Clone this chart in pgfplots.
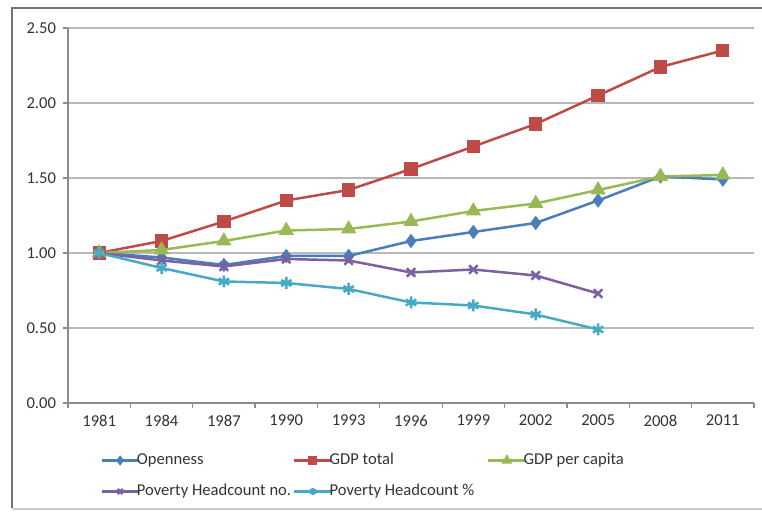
\documentclass[border=0pt]{standalone}
\usepackage{pgfplots}
\pgfplotsset{compat=1.18}
\usepackage{fontspec}
\setmainfont{Carlito}

\definecolor{cOpen}{HTML}{4A7EBB}
\definecolor{cGdp}{HTML}{BE4B48}
\definecolor{cCap}{HTML}{98B954}
\definecolor{cPovN}{HTML}{7D60A0}
\definecolor{cPovP}{HTML}{46AAC5}

\begin{document}
\begin{tikzpicture}
\useasboundingbox (0,0) rectangle (381pt,256pt);
\draw[black!55, line width=0.8pt] (390pt,252pt) -- (6pt,252pt) -- (6pt,2pt);
\draw[black!20, line width=0.6pt] (6pt,1.5pt) -- (390pt,1.5pt);
\begin{axis}[
  at={(34pt,54.5pt)}, anchor=south west,
  scale only axis, width=343pt, height=187.5pt,
  xmin=-0.5, xmax=10.5, ymin=0, ymax=2.5,
  xtick={0,...,10},
  xticklabels={1981,1984,1987,1990,1993,1996,1999,2002,2005,2008,2011},
  minor xtick={-0.5,0.5,...,10.5},
  ytick={0,0.5,...,2.5},
  yticklabel style={/pgf/number format/.cd, fixed, fixed zerofill, precision=2},
  /pgf/number format/assume math mode=true,
  axis x line*=bottom, axis y line*=left,
  axis line style={black!45, line width=0.6pt, -},
  tick align=outside, major tick length=2.5pt, minor tick length=2.5pt,
  major x tick style={draw=none},
  minor x tick style={black!45, line width=0.6pt},
  ytick style={black!45, line width=0.6pt},
  ymajorgrids, grid style={black!28, line width=0.6pt},
  tick label style={font=\fontsize{8.3}{10}\selectfont, text=black!80},
  legend columns=3,
  legend style={at={(axis description cs:0.0466,-0.111)}, anchor=north west,
    draw=none, fill=none, inner sep=0pt, font=\fontsize{8.3}{10}\selectfont,
    text=black!80,
    cells={anchor=west, minimum height=15.5pt, inner sep=0.5pt},
    /tikz/column 1/.style={column sep=-3.5pt},
    /tikz/column 2/.style={column sep=-1pt},
    /tikz/column 3/.style={column sep=-3.5pt},
    /tikz/column 4/.style={column sep=4.5pt},
    /tikz/column 5/.style={column sep=-3.5pt}},
  legend image code/.code={\draw[mark repeat=2, mark phase=2, mark options={scale=0.6}]
    plot coordinates {(0pt,0pt) (9.25pt,0pt) (18.5pt,0pt)};},
  every axis plot/.append style={line width=1.25pt},
]
\addplot[cOpen, mark=diamond*, mark size=2.6pt, mark options={solid}] coordinates {
  (0,1.00) (1,0.97) (2,0.92) (3,0.98) (4,0.98) (5,1.08) (6,1.14) (7,1.20) (8,1.35) (9,1.51) (10,1.49)};
\addlegendentry{Openness}
\addplot[cGdp, mark=square*, mark size=2.7pt] coordinates {
  (0,1.00) (1,1.08) (2,1.21) (3,1.35) (4,1.42) (5,1.56) (6,1.71) (7,1.86) (8,2.05) (9,2.24) (10,2.35)};
\addlegendentry{GDP total}
\addplot[cCap, mark=triangle*, mark size=3.2pt] coordinates {
  (0,1.00) (1,1.02) (2,1.08) (3,1.15) (4,1.16) (5,1.21) (6,1.28) (7,1.33) (8,1.42) (9,1.51) (10,1.52)};
\addlegendentry{GDP per capita}
\addplot[cPovN, mark=x, mark size=3pt] coordinates {
  (0,1.00) (1,0.95) (2,0.91) (3,0.96) (4,0.95) (5,0.87) (6,0.89) (7,0.85) (8,0.73)};
\addlegendentry{Poverty Headcount no.}
\addplot[cPovP, mark=asterisk, mark size=3pt] coordinates {
  (0,1.00) (1,0.90) (2,0.81) (3,0.80) (4,0.76) (5,0.67) (6,0.65) (7,0.59) (8,0.49)};
\addlegendentry{Poverty Headcount \%}
\end{axis}
\end{tikzpicture}
\end{document}
